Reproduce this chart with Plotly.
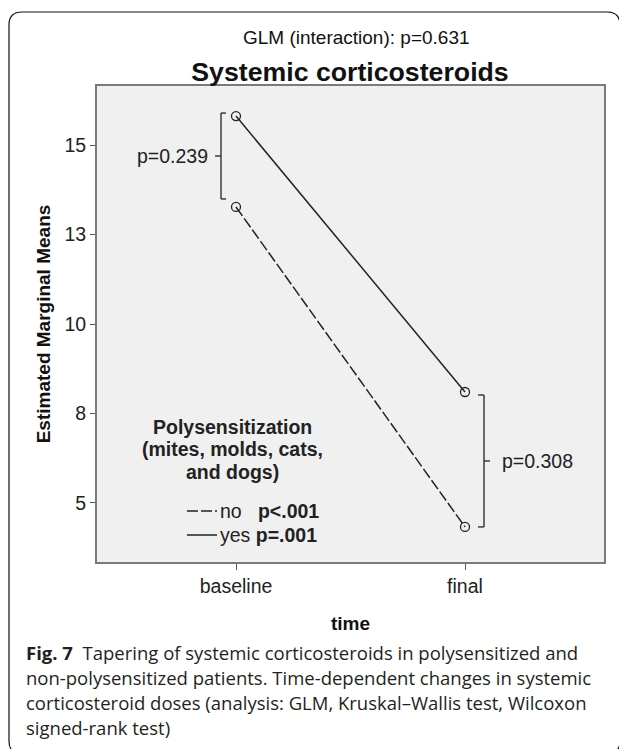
import plotly.graph_objects as go

# data
times = ["baseline", "final"]
yes_means = [15.81, 8.10]
no_means = [13.27, 4.33]
y_tickvals = [5, 7.5, 10, 12.5, 15]
y_ticktext = ["5", "8", "10", "13", "15"]
p_baseline = "p=0.239"
p_final = "p=0.308"
p_no = "p<.001"
p_yes = "p=.001"

# the page body adds an 8px margin, so the figure is a bit smaller
O = 8
W, H = 627 - O, 749 - O
L, R, T, B = 97 - O, 23, 86 - O, 187
PW, PH = W - L - R, H - T - B

FONT = "Liberation Sans, Arial, sans-serif"
INK = "#222222"
FS = 19.5


def px(x):
    # page pixel -> paper coordinate
    return (x - O - L) / PW


def py(y):
    return (H - B - (y - O)) / PH


fig = go.Figure()

fig.add_trace(go.Scatter(
    x=times, y=no_means, mode="lines+markers", name="no",
    line=dict(color=INK, width=1.5, dash="11px,3px"),
    marker=dict(symbol="circle-open", size=9, color=INK, line=dict(width=1.3)),
    showlegend=False,
))
fig.add_trace(go.Scatter(
    x=times, y=yes_means, mode="lines+markers", name="yes",
    line=dict(color=INK, width=1.5),
    marker=dict(symbol="circle-open", size=9, color=INK, line=dict(width=1.3)),
    showlegend=False,
))

shapes = []
annotations = []
bl = dict(color=INK, width=1.3)

# baseline bracket (left side, arms point right)
u = 1 / 35.8  # value units per pixel
bx = -0.0655
top, bot = yes_means[0] + 3 * u, no_means[0] + 8 * u
mid = (top + bot) / 2
shapes += [
    dict(type="line", xref="x", yref="y", x0=bx, x1=bx, y0=bot, y1=top, line=bl),
    dict(type="line", xref="x", yref="y", x0=bx, x1=bx + 0.022, y0=top, y1=top, line=bl),
    dict(type="line", xref="x", yref="y", x0=bx, x1=bx + 0.022, y0=bot, y1=bot, line=bl),
    dict(type="line", xref="x", yref="y", x0=bx - 0.026, x1=bx, y0=mid, y1=mid, line=bl),
]
annotations.append(dict(x=bx - 0.048, y=mid, xref="x", yref="y", text=p_baseline,
                        showarrow=False, xanchor="right", yanchor="middle",
                        font=dict(size=FS, color=INK, family=FONT)))

# final bracket (right side, arms point left)
fx = 1.083
top, bot = yes_means[1] - 3 * u, no_means[1]
mid = (top + bot) / 2
shapes += [
    dict(type="line", xref="x", yref="y", x0=fx, x1=fx, y0=bot, y1=top, line=bl),
    dict(type="line", xref="x", yref="y", x0=fx - 0.026, x1=fx, y0=top, y1=top, line=bl),
    dict(type="line", xref="x", yref="y", x0=fx - 0.026, x1=fx, y0=bot, y1=bot, line=bl),
    dict(type="line", xref="x", yref="y", x0=fx, x1=fx + 0.026, y0=mid, y1=mid, line=bl),
]
annotations.append(dict(x=fx + 0.07, y=mid, xref="x", yref="y", text=p_final,
                        showarrow=False, xanchor="left", yanchor="middle",
                        font=dict(size=FS, color=INK, family=FONT)))

# legend drawn inside the plot
for txt, yy in [("<b>Polysensitization</b>", 427),
                ("<b>(mites, molds, cats,</b>", 449),
                ("<b>and dogs)</b>", 472)]:
    annotations.append(dict(x=px(232), y=py(yy), xref="paper", yref="paper", text=txt,
                            showarrow=False, xanchor="center", yanchor="middle",
                            font=dict(size=FS, color=INK, family=FONT)))
for label, ptxt, yy, dash, gap in [("no", p_no, 511, "11px,3px", "   "), ("yes", p_yes, 535, "solid", " ")]:
    shapes.append(dict(type="line", xref="paper", yref="paper", x0=px(187), x1=px(217),
                       y0=py(yy), y1=py(yy), line=dict(color=INK, width=1.5, dash=dash)))
    annotations.append(dict(x=px(218), y=py(yy), xref="paper", yref="paper",
                            text=label + gap + "<b>" + ptxt.replace("<", "&lt;") + "</b>",
                            showarrow=False, xanchor="left", yanchor="middle",
                            font=dict(size=FS, color=INK, family=FONT)))

# subtitle
annotations.append(dict(x=px(356), y=py(38), xref="paper", yref="paper",
                        text="GLM (interaction): p=0.631", showarrow=False,
                        xanchor="center", yanchor="middle",
                        font=dict(size=19, color="#111111", family=FONT)))

# figure caption
CAP = "Open Sans, sans-serif"
caption = [
    "<b>Fig. 7</b>  Tapering of systemic corticosteroids in polysensitized and",
    "non-polysensitized patients. Time-dependent changes in systemic",
    "corticosteroid doses (analysis: GLM, Kruskal–Wallis test, Wilcoxon",
    "signed-rank test)",
]
for i, line in enumerate(caption):
    annotations.append(dict(x=px(24), y=py(652 + 25 * i), xref="paper", yref="paper",
                            text=line, showarrow=False, xanchor="left", yanchor="middle",
                            font=dict(size=18.5, color="#231f20", family=CAP)))

# outer rounded frame
x0, x1, y0, y1, r = 9, 620, 12, 754, 13
pts = [
    ("M", x0, y0 + r), ("Q", x0, y0, x0 + r, y0), ("L", x1 - r, y0), ("Q", x1, y0, x1, y0 + r),
    ("L", x1, y1 - r), ("Q", x1, y1, x1 - r, y1), ("L", x0 + r, y1), ("Q", x0, y1, x0, y1 - r), ("Z",),
]
path = ""
for p in pts:
    s = p[0]
    coords = p[1:]
    for k in range(0, len(coords), 2):
        s += " %.5f,%.5f" % (px(coords[k]), py(coords[k + 1]))
    path += s + " "
shapes.append(dict(type="path", xref="paper", yref="paper", path=path.strip(),
                   line=dict(color="#111111", width=1.2), layer="below"))

fig.update_layout(
    width=W, height=H,
    margin=dict(l=L, r=R, t=T, b=B),
    paper_bgcolor="white",
    plot_bgcolor="#f0f0f0",
    title=dict(text="<b>Systemic corticosteroids</b>", x=px(350), xref="paper",
               y=1 - (72 - O) / H, yanchor="middle", xanchor="center",
               font=dict(size=26.7, color="#111111", family=FONT)),
    shapes=shapes,
    annotations=annotations,
    showlegend=False,
)
fig.update_xaxes(
    range=[-0.607, 1.607], showgrid=False, zeroline=False,
    showline=True, linecolor="#7a7a7a", linewidth=2, mirror=True,
    ticks="outside", ticklen=6, tickwidth=1.3, tickcolor="#555555",
    tickfont=dict(size=FS, color=INK, family=FONT),
    title=dict(text="<b>time</b>", font=dict(size=19, color="#111111", family=FONT), standoff=20),
)
fig.update_yaxes(
    range=[3.35, 16.65], tickvals=y_tickvals, ticktext=y_ticktext,
    showgrid=False, zeroline=False,
    showline=True, linecolor="#7a7a7a", linewidth=2, mirror=True,
    ticks="outside", ticklen=5, tickwidth=1.3, tickcolor="#555555",
    tickfont=dict(size=FS, color=INK, family=FONT),
    title=dict(text="<b>Estimated Marginal Means</b>", font=dict(size=19, color="#111111", family=FONT),
               standoff=9),
)

fig.write_html("out.html")
